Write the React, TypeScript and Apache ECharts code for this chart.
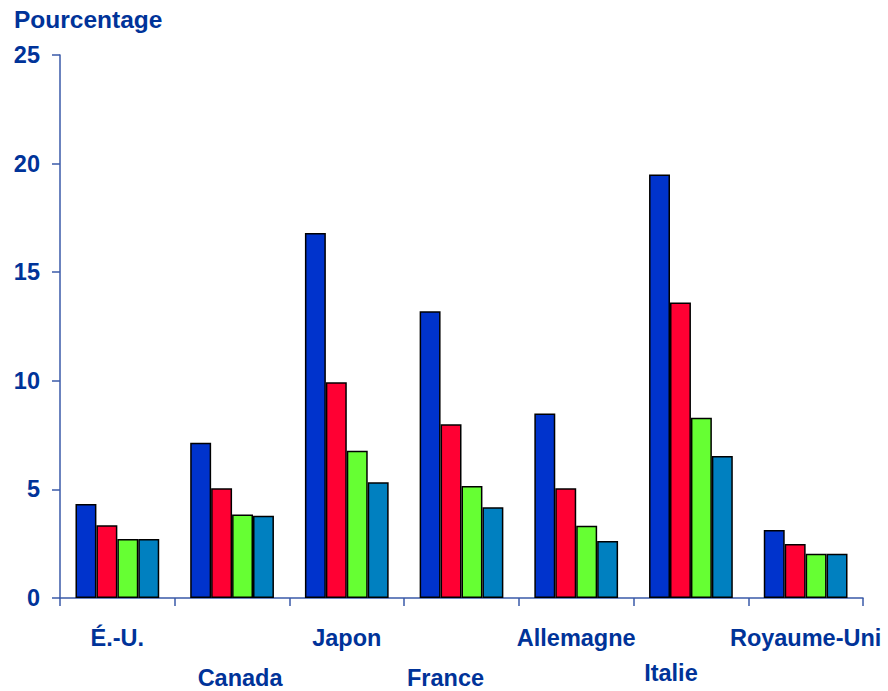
import React, { useEffect, useRef } from "react";
import * as echarts from "echarts";

const categories = ["É.-U.", "Canada", "Japon", "France", "Allemagne", "Italie", "Royaume-Uni"];
const seriesNames = ["Série 1", "Série 2", "Série 3", "Série 4"];
const serie1 = [4.33, 7.15, 16.8, 13.2, 8.5, 19.5, 3.13];
const serie2 = [3.35, 5.05, 9.93, 8.0, 5.05, 13.6, 2.49];
const serie3 = [2.72, 3.85, 6.78, 5.16, 3.33, 8.3, 2.04];
const serie4 = [2.72, 3.79, 5.33, 4.18, 2.62, 6.54, 2.04];
const colors = ["#0033CC", "#FF0033", "#66FF33", "#0080C0"];
const yTicks = [0, 5, 10, 15, 20, 25];

// horizontal nudges of the category labels (layout only)
const labelShift = [0, 8, 0, -16, 0, -20, 0];

const TEXT = "#003399";
const AXIS = "#3a5aa8";
const FONT = "'Liberation Sans', Arial, sans-serif";
const FS = 23.5;

export default function App() {
  const ref = useRef<HTMLDivElement>(null);
  useEffect(() => {
    const chart = echarts.init(ref.current!, null, { renderer: "svg" });
    const allSeries = [serie1, serie2, serie3, serie4];
    const rich: Record<string, any> = {};
    categories.forEach((_, i) => {
      const s = labelShift[i];
      rich["c" + i] = {
        lineHeight: categories[i] === "Italie" ? 30 : 40,
        color: TEXT,
        fontFamily: FONT,
        fontWeight: "bold",
        fontSize: FS,
        padding: s >= 0 ? [0, 0, 0, 2 * s] : [0, -2 * s, 0, 0],
      };
    });
    chart.setOption({
      animation: false,
      grid: {
        left: 60,
        right: 25,
        top: 55,
        bottom: 93,
        containLabel: false,
        outerBoundsMode: "none",
      },
      graphic: [
        {
          type: "text",
          left: 14,
          top: 7,
          style: { text: "Pourcentage", fill: TEXT, font: `bold 24.5px ${FONT}` },
        },
      ],
      xAxis: {
        type: "category",
        data: categories,
        axisLine: { show: true, lineStyle: { color: AXIS, width: 1.5 } },
        axisTick: { show: true, length: 8, lineStyle: { color: AXIS, width: 1.5 } },
        axisLabel: {
          interval: 0,
          margin: 20,
          lineHeight: 40,
          color: TEXT,
          fontFamily: FONT,
          fontWeight: "bold",
          fontSize: FS,
          formatter: (v: string, i: number) =>
            i % 2 === 0 ? `{c${i}|${v}}` : `\n{c${i}|${v}}`,
          rich,
        },
      },
      yAxis: {
        type: "value",
        min: yTicks[0],
        max: yTicks[yTicks.length - 1],
        interval: 5,
        splitLine: { show: false },
        axisLine: { show: true, lineStyle: { color: AXIS, width: 1.5 } },
        axisTick: { show: true, length: 8, lineStyle: { color: AXIS, width: 1.5 } },
        axisLabel: {
          margin: 20,
          color: TEXT,
          fontFamily: FONT,
          fontWeight: "bold",
          fontSize: FS,
        },
      },
      series: allSeries.map((d, k) => ({
        name: seriesNames[k],
        type: "bar",
        data: d,
        barGap: "0%",
        barCategoryGap: "27%",
        itemStyle: { color: colors[k], borderColor: "#000", borderWidth: 1.5 },
      })),
    });
    return () => chart.dispose();
  }, []);
  return (
    <div
      ref={ref}
      style={{ position: "absolute", left: 0, top: 0, width: 888, height: 691 }}
    />
  );
}
